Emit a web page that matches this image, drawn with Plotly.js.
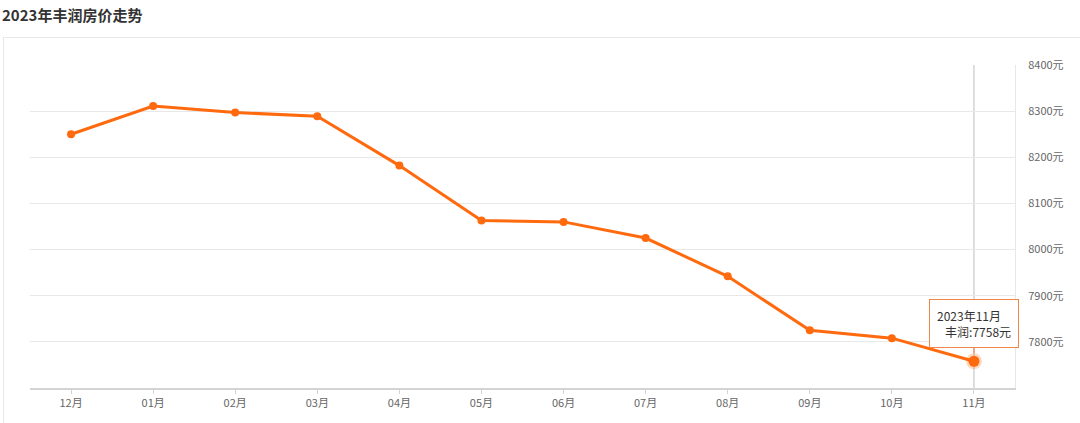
<!DOCTYPE html>
<html>
<head>
<meta charset="utf-8">
<script src="https://cdn.plot.ly/plotly-3.0.1.min.js"></script>
<style>
  html, body { margin: 0; padding: 0; background: #fff; width: 1080px; height: 423px; overflow: hidden; }
  #frame { position: absolute; left: 3px; top: 37px; width: 1200px; height: 600px; border: 1px solid #e8e8e8; box-sizing: border-box; }
  #chart { position: absolute; left: 0; top: 0; width: 1080px; height: 423px; }
</style>
</head>
<body>
<div id="frame"></div>
<div id="chart"></div>
<script>
// ---- data ----
const months = ["12月", "01月", "02月", "03月", "04月", "05月", "06月", "07月", "08月", "09月", "10月", "11月"];
const prices = [8250, 8311, 8297, 8289, 8182, 8063, 8060, 8025, 7942, 7825, 7808, 7758];
const yTickValues = [7800, 7900, 8000, 8100, 8200, 8300, 8400];
const yTickLabels = ["7800元", "7900元", "8000元", "8100元", "8200元", "8300元", "8400元"];
const seriesName = "丰润";
const tooltipTitle = "2023年11月";
const chartTitle = "2023年丰润房价走势";

const FONT = '"Noto Sans CJK SC", "Noto Sans", "Open Sans", sans-serif';
const ORANGE = '#ff6a0f';

const lastIdx = prices.length - 1;

const traces = [
  {
    x: months, y: prices, type: 'scatter', mode: 'lines+markers',
    line: { color: ORANGE, width: 3 },
    marker: { color: ORANGE, size: 8 },
    hoverinfo: 'skip', showlegend: false
  },
  {
    x: [months[lastIdx]], y: [prices[lastIdx]], type: 'scatter', mode: 'markers',
    marker: { color: ORANGE, size: 11, line: { color: 'rgba(255,106,15,0.25)', width: 5 } },
    hoverinfo: 'skip', showlegend: false
  }
];

const layout = {
  width: 1080, height: 423,
  margin: { l: 30, r: 65, t: 64.5, b: 35, pad: 0 },
  paper_bgcolor: 'rgba(0,0,0,0)',
  plot_bgcolor: 'rgba(0,0,0,0)',
  font: { family: FONT, color: '#666', size: 11 },
  title: {
    text: '<b>' + chartTitle + '</b>',
    xref: 'container', yref: 'container',
    x: 2 / 1080, xanchor: 'left',
    y: 1 - 16 / 423, yanchor: 'middle',
    font: { family: FONT, size: 15, color: '#333' }
  },
  xaxis: {
    type: 'category',
    range: [-0.5, months.length - 0.5],
    showgrid: false, zeroline: false,
    showline: true, linecolor: '#d4d4d4', linewidth: 2,
    ticks: 'outside', ticklen: 4, tickcolor: '#d4d4d4', tickwidth: 1,
    tickfont: { family: FONT, size: 11, color: '#666' },
    fixedrange: true
  },
  yaxis: {
    side: 'right',
    range: [7700, 8400],
    tickvals: yTickValues, ticktext: yTickLabels,
    showgrid: true, gridcolor: '#e8e8e8', gridwidth: 1,
    zeroline: false,
    showline: true, linecolor: '#e8e8e8', linewidth: 1,
    ticks: '', ticklabelstandoff: 10,
    tickfont: { family: FONT, size: 11, color: '#666' },
    fixedrange: true
  },
  shapes: [
    {
      type: 'line', xref: 'x', yref: 'paper',
      x0: lastIdx, x1: lastIdx, y0: 0, y1: 1,
      line: { color: '#bdbdbd', width: 1 },
      layer: 'below'
    }
  ],
  annotations: [
    {
      x: months[lastIdx], y: prices[lastIdx], xref: 'x', yref: 'y',
      text: tooltipTitle + '<br>\u00a0\u00a0\u00a0' + seriesName + ':' + prices[lastIdx] + '元',
      align: 'left',
      showarrow: true, arrowhead: 0, arrowwidth: 1.2, arrowcolor: '#f0874a',
      ax: 0, ay: -38, standoff: 8,
      bgcolor: '#ffffff', bordercolor: '#f0874a', borderwidth: 1, borderpad: 7,
      font: { family: FONT, size: 12, color: '#333' }
    }
  ]
};

Plotly.newPlot('chart', traces, layout, { staticPlot: true, displayModeBar: false });
</script>
</body>
</html>
